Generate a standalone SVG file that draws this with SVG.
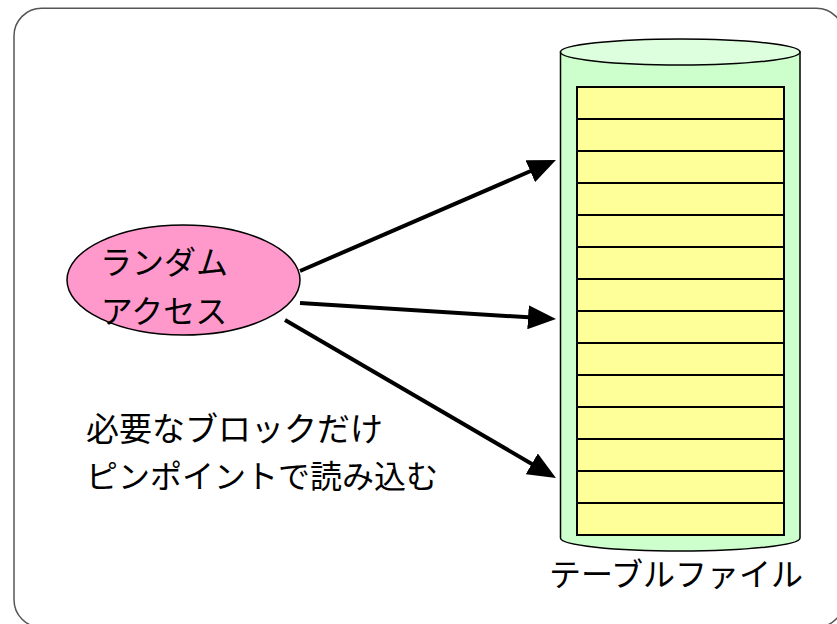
<svg xmlns="http://www.w3.org/2000/svg" width="837" height="624" viewBox="0 0 837 624">
<style>
.t{font-family:"Noto Sans CJK JP","Liberation Sans",sans-serif;font-size:32px;font-weight:400;fill:#000}
.row{stroke:#000;stroke-width:2}
.conn{stroke:#000;stroke-width:4;fill:none}
</style>
<defs>
<marker id="ah" markerUnits="userSpaceOnUse" viewBox="0 0 28 24" markerWidth="28" markerHeight="24" refX="13" refY="12" orient="auto">
<path d="M0,0 L28,12 L0,24 Z" fill="#000"/>
</marker>
</defs>
<rect x="14" y="8.3" width="830" height="619" rx="27.6" ry="27.6" fill="#fff" stroke="#555" stroke-width="1.5"/>
<g id="table-file">
<path d="M560.5,52 L560.5,538 A119.75,13 0 0 0 800,538 L800,52 Z" fill="#CCFFCC" stroke="#000" stroke-width="1.5"/>
<ellipse cx="680.25" cy="52" rx="119.75" ry="13" fill="#DDFFDD" stroke="#000" stroke-width="1.5"/>
<rect x="577" y="87" width="207" height="448" fill="#FFFF99" stroke="#000" stroke-width="2"/>
<g class="row">
<line x1="577" y1="119" x2="784" y2="119"/>
<line x1="577" y1="151" x2="784" y2="151"/>
<line x1="577" y1="183" x2="784" y2="183"/>
<line x1="577" y1="215" x2="784" y2="215"/>
<line x1="577" y1="247" x2="784" y2="247"/>
<line x1="577" y1="279" x2="784" y2="279"/>
<line x1="577" y1="311" x2="784" y2="311"/>
<line x1="577" y1="343" x2="784" y2="343"/>
<line x1="577" y1="375" x2="784" y2="375"/>
<line x1="577" y1="407" x2="784" y2="407"/>
<line x1="577" y1="439" x2="784" y2="439"/>
<line x1="577" y1="471" x2="784" y2="471"/>
<line x1="577" y1="503" x2="784" y2="503"/>
</g>
<text class="t" x="676" y="586" text-anchor="middle">テーブルファイル</text>
</g>
<g id="random-access">
<ellipse cx="183.5" cy="280" rx="116.5" ry="55" fill="#FF99CC" stroke="#000" stroke-width="1.5"/>
<text class="t" x="164" y="274" text-anchor="middle">ランダム</text>
<text class="t" x="164" y="323" text-anchor="middle">アクセス</text>
</g>
<g id="note">
<text class="t" x="86" y="441" style="font-size:33px">必要なブロックだけ</text>
<text class="t" x="86" y="488" style="font-size:32px">ピンポイントで読み込む</text>
</g>
<g id="connectors">
<line class="conn" x1="300" y1="271" x2="542.2" y2="166" marker-end="url(#ah)"/>
<line class="conn" x1="300" y1="303" x2="541" y2="318.1" marker-end="url(#ah)"/>
<line class="conn" x1="285" y1="320" x2="543" y2="470.4" marker-end="url(#ah)"/>
</g>
</svg>
